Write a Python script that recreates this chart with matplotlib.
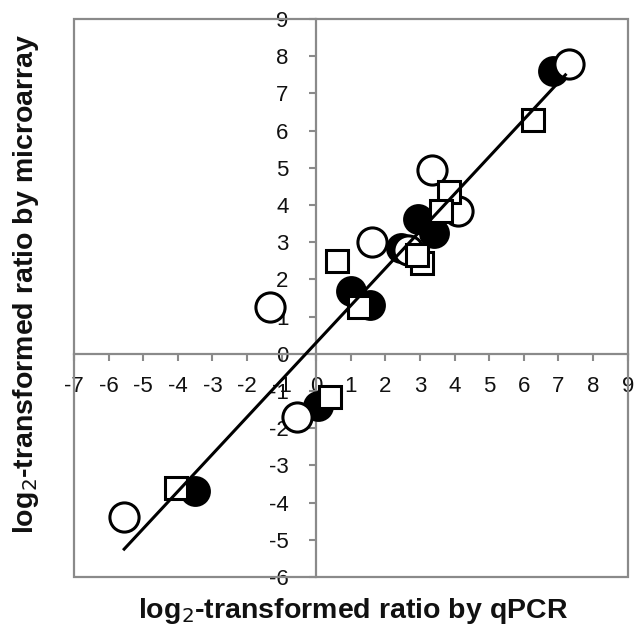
import numpy as np
import matplotlib
matplotlib.use("Agg")
import matplotlib.pyplot as plt
from matplotlib.patches import Rectangle

plt.rcParams["font.family"] = ["Liberation Sans", "DejaVu Sans"]
plt.rcParams["axes.unicode_minus"] = False

# -----------------------------
# DATA
# -----------------------------
filled_x = [6.85, 2.95, 3.4, 2.45, 1.0, 1.55, 0.05, -3.5]
filled_y = [7.6, 3.62, 3.25, 2.85, 1.7, 1.3, -1.4, -3.7]

open_x = [7.3, 3.35, 4.1, 1.6, -1.35, 2.65, -0.55, -5.55]
open_y = [7.8, 4.95, 3.85, 3.0, 1.25, 2.8, -1.7, -4.4]

square_x = [6.25, 3.85, 3.6, 0.6, 3.05, 2.9, 1.25, 0.4, -4.05]
square_y = [6.3, 4.35, 3.85, 2.5, 2.45, 2.65, 1.25, -1.15, -3.6]

# trendline end points
fit_x = [-5.55, 7.2]
fit_y = [-5.25, 7.5]

x_ticks = list(range(-7, 10))
y_ticks = list(range(-6, 10))

GRAY = "#8a8a8a"

# -----------------------------
# PLOT
# -----------------------------
fig = plt.figure(figsize=(6.35, 6.34), dpi=100)
ax = fig.add_axes([0.1165, 0.0899, 0.872, 0.880])

ax.plot(filled_x, filled_y, "o", ms=20, mfc="black", mec="black", mew=2.2, zorder=3)
ax.plot(open_x, open_y, "o", ms=21, mfc="white", mec="black", mew=2.2, zorder=4)
ax.plot(square_x, square_y, "s", ms=16, mfc="white", mec="black", mew=2.2, zorder=5)
ax.plot(fit_x, fit_y, "-", color="black", lw=2.2, zorder=6)

ax.set_xlim(-7, 9)
ax.set_ylim(-6, 9)
ax.set_xticks(x_ticks)
ax.set_yticks(y_ticks)

# axes cross at the origin
ax.spines["left"].set_position(("data", 0))
ax.spines["bottom"].set_position(("data", 0))
ax.spines["right"].set_visible(False)
ax.spines["top"].set_visible(False)
for s in ["left", "bottom"]:
    ax.spines[s].set_color(GRAY)
    ax.spines[s].set_linewidth(1.6)
    ax.spines[s].set_zorder(2)

ax.add_patch(Rectangle((0, 0), 1, 1, transform=ax.transAxes, fill=False,
                       edgecolor=GRAY, lw=1.6, clip_on=False, zorder=2))

ax.tick_params(axis="x", direction="out", length=5, width=1.5, color=GRAY,
               labelsize=16, labelcolor="#111111", pad=11)
ax.tick_params(axis="y", direction="out", length=5, width=1.5, color=GRAY,
               labelsize=16, labelcolor="#111111", pad=15)

fig.text(0.556, 0.026, "log$_2$-transformed ratio by qPCR", ha="center", va="baseline",
         fontsize=20.5, fontweight="bold", color="#111111")
fig.text(0.041, 0.553, "log$_2$-transformed ratio by microarray", ha="center", va="center",
         rotation=90, fontsize=20.5, fontweight="bold", color="#111111")

fig.savefig("out.png", dpi=100)
